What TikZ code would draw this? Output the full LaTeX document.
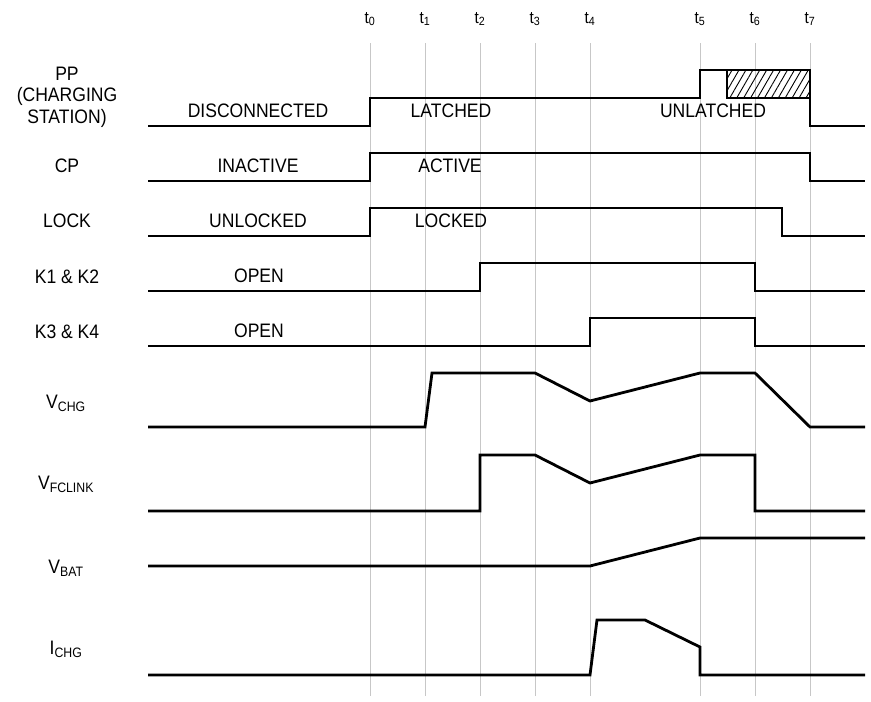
\documentclass[tikz,border=0pt]{standalone}
\usepackage{fontspec}
\setmainfont{Liberation Sans}[FakeStretch=0.9]
\usetikzlibrary{patterns.meta}

\begin{document}
\begin{tikzpicture}[
    x=1pt, y=-1pt,
    grid/.style={draw=black!22, line width=0.9pt},
    sig/.style={line width=2.8pt, line join=miter},
    signame/.style={font=\fontsize{19.5}{21.5}\selectfont, align=center, inner sep=0pt},
    state/.style={font=\fontsize{19.5}{21}\selectfont, inner sep=0pt},
    tlabel/.style={font=\fontsize{17}{19}\selectfont, inner sep=0pt},
]
    \useasboundingbox (0,0) rectangle (871,702);

    % Time marks
    \node[tlabel] (lt0) at (370,19) {t\textsubscript{0}};
    \node[tlabel] (lt1) at (425,19) {t\textsubscript{1}};
    \node[tlabel] (lt2) at (480,19) {t\textsubscript{2}};
    \node[tlabel] (lt3) at (535,19) {t\textsubscript{3}};
    \node[tlabel] (lt4) at (590,19) {t\textsubscript{4}};
    \node[tlabel] (lt5) at (700,19) {t\textsubscript{5}};
    \node[tlabel] (lt6) at (755,19) {t\textsubscript{6}};
    \node[tlabel] (lt7) at (810,19) {t\textsubscript{7}};

    % Grid lines
    \draw[grid] (370,43) -- (370,696);
    \draw[grid] (425,43) -- (425,696);
    \draw[grid] (480,43) -- (480,696);
    \draw[grid] (535,43) -- (535,696);
    \draw[grid] (590,43) -- (590,696);
    \draw[grid] (700,43) -- (700,696);
    \draw[grid] (755,43) -- (755,696);
    \draw[grid] (810,43) -- (810,696);

    % Signal names
    \node[signame] (n_pp) at (67,97) {PP\\(CHARGING\\STATION)};
    \node[signame] (n_cp) at (67,166) {CP};
    \node[signame] (n_lock) at (67,221) {LOCK};
    \node[signame] (n_k12) at (67,277) {K1 \& K2};
    \node[signame] (n_k34) at (67,332) {K3 \& K4};
    \node[signame] (n_vchg) at (66,403) {V\textsubscript{CHG}};
    \node[signame] (n_vfc) at (66,484) {V\textsubscript{FCLINK}};
    \node[signame] (n_vbat) at (66,568) {V\textsubscript{BAT}};
    \node[signame] (n_ichg) at (66,649) {I\textsubscript{CHG}};

    % PP
    \draw[sig] (148,126) -- (370,126) -- (370,98) -- (700,98) -- (700,70)
        -- (810,70) -- (810,126) -- (865,126);
    \draw[sig, pattern={Lines[angle=60, distance=6pt, line width=0.9pt]}]
        (727,70) rectangle (810,98);
    \node[state] (s_disc) at (258,111) {DISCONNECTED};
    \node[state] (s_latch) at (451,111) {LATCHED};
    \node[state] (s_unlatch) at (713,111) {UNLATCHED};

    % CP
    \draw[sig] (148,181) -- (370,181) -- (370,153) -- (810,153) -- (810,181) -- (865,181);
    \node[state] (s_inact) at (258,166) {INACTIVE};
    \node[state] (s_act) at (450,166) {ACTIVE};

    % LOCK
    \draw[sig] (148,236) -- (370,236) -- (370,208) -- (782,208) -- (782,236) -- (865,236);
    \node[state] (s_unlock) at (258,221) {UNLOCKED};
    \node[state] (s_lock) at (451,221) {LOCKED};

    % K1 & K2
    \draw[sig] (148,291) -- (480,291) -- (480,263) -- (755,263) -- (755,291) -- (865,291);
    \node[state] (s_open1) at (259,276) {OPEN};

    % K3 & K4
    \draw[sig] (148,346) -- (590,346) -- (590,318) -- (755,318) -- (755,346) -- (865,346);
    \node[state] (s_open2) at (259,331) {OPEN};

    % V_CHG
    \draw[sig] (148,427) -- (425,427) -- (432,373) -- (535,373) -- (590,401)
        -- (700,373) -- (755,373) -- (810,427) -- (865,427);

    % V_FCLINK
    \draw[sig] (148,511) -- (480,511) -- (480,455) -- (535,455) -- (590,483)
        -- (700,455) -- (755,455) -- (755,511) -- (865,511);

    % V_BAT
    \draw[sig] (148,566) -- (590,566) -- (700,538) -- (865,538);

    % I_CHG
    \draw[sig] (148,675) -- (590,675) -- (597,620) -- (645,620) -- (700,647)
        -- (700,675) -- (865,675);

\end{tikzpicture}
\end{document}
